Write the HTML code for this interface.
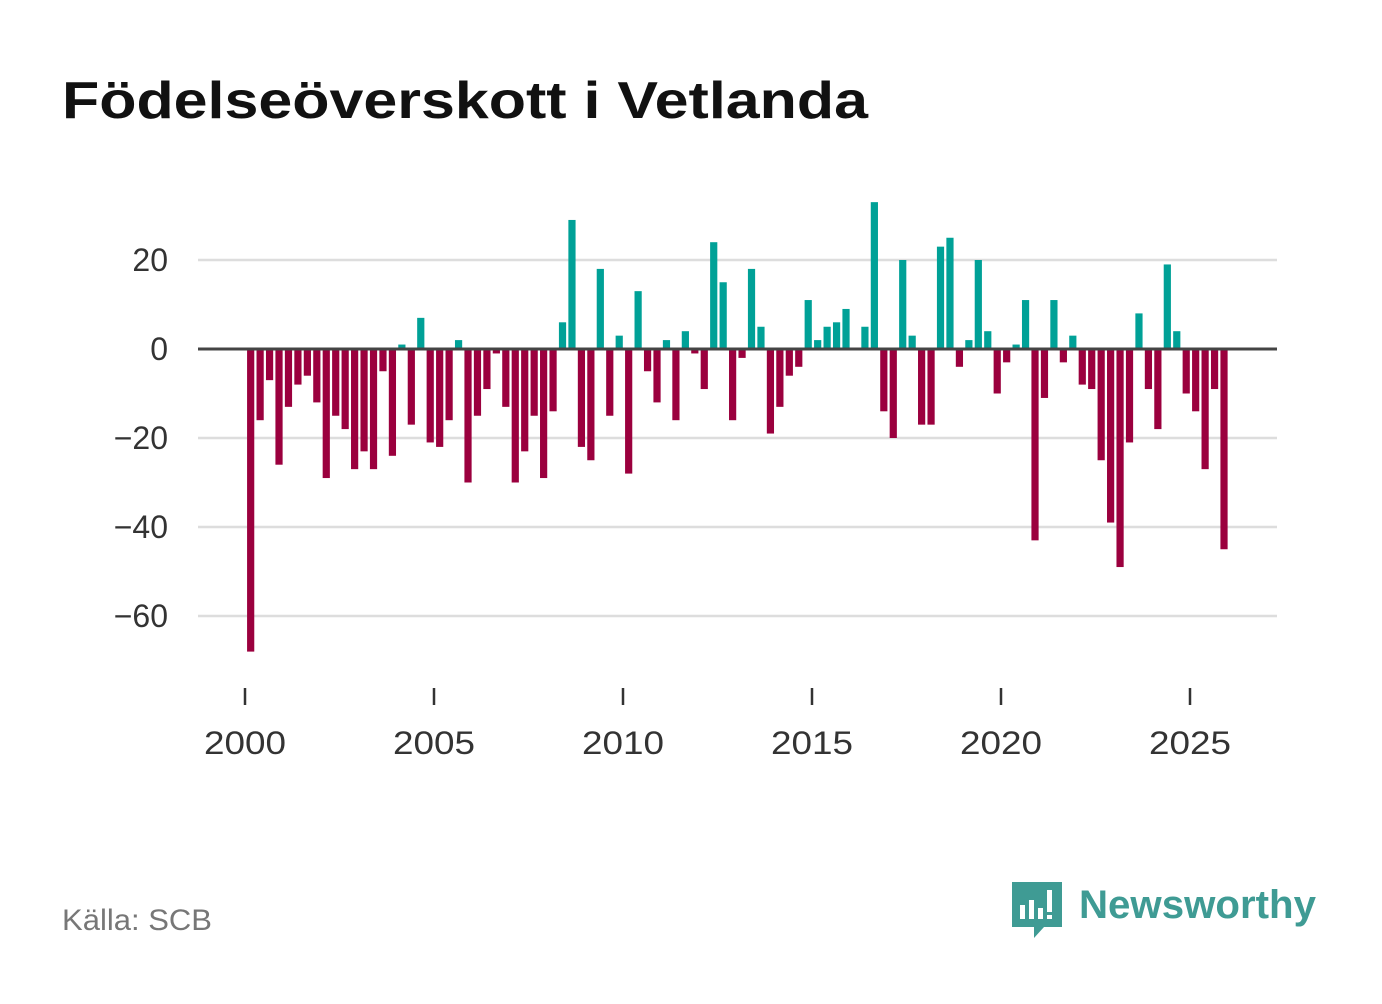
<!DOCTYPE html>
<html><head><meta charset="utf-8"><style>
body{margin:0;background:#fff;width:1382px;height:999px;overflow:hidden;font-family:"Liberation Sans",sans-serif}
</style></head><body>
<svg width="1382" height="999">
<text x="62" y="118" font-size="52" font-weight="bold" fill="#111" textLength="806" lengthAdjust="spacingAndGlyphs">Födelseöverskott i Vetlanda</text>
<g id="grid"></g><g id="bars"></g><g id="xaxis"></g>
<text x="62" y="930" font-size="30" fill="#777" textLength="150" lengthAdjust="spacingAndGlyphs">Källa: SCB</text>
<g>
<path d="M1012 882h50v45h-18l-10 11v-11h-22z" fill="#3f9b94"/>
<rect x="1020" y="905" width="5" height="14" fill="#fff"/><rect x="1029" y="900" width="5" height="19" fill="#fff"/><rect x="1038" y="908" width="5" height="11" fill="#fff"/><rect x="1047" y="890" width="5" height="22" fill="#fff"/><rect x="1047" y="915" width="5" height="4" fill="#fff"/>
<text x="1079" y="918" font-size="40" font-weight="bold" fill="#3f9b94" textLength="237" lengthAdjust="spacingAndGlyphs">Newsworthy</text>
</g>
</svg>
<script>
const years=[2000,2005,2010,2015,2020,2025];
const yTicks=[20,0,-20,-40,-60];
const values=[-68,-16,-7,-26,-13,-8,-6,-12,-29,-15,-18,-27,-23,-27,-5,-24,1,-17,7,-21,-22,-16,2,-30,-15,-9,-1,-13,-30,-23,-15,-29,-14,6,29,-22,-25,18,-15,3,-28,13,-5,-12,2,-16,4,-1,-9,24,15,-16,-2,18,5,-19,-13,-6,-4,11,2,5,6,9,0,5,33,-14,-20,20,3,-17,-17,23,25,-4,2,20,4,-10,-3,1,11,-43,-11,11,-3,3,-8,-9,-25,-39,-49,-21,8,-9,-18,19,4,-10,-14,-27,-9,-45];
const NS="http://www.w3.org/2000/svg";
const xs=t=>245+(t-2000)*37.8;
const ys=v=>349-v*4.45;
function mk(tag,attrs,parent){const e=document.createElementNS(NS,tag);for(const k in attrs)e.setAttribute(k,attrs[k]);parent.appendChild(e);return e;}
const grid=document.getElementById('grid'),bars=document.getElementById('bars'),xa=document.getElementById('xaxis');
yTicks.forEach(v=>{if(v!==0){const l=mk('line',{x1:198,x2:1277,y1:ys(v),y2:ys(v),stroke:'#ddd','stroke-width':2.5},grid);

}
const t=mk('text',{x:168,y:ys(v)+11,'font-size':32,fill:'#333','text-anchor':'end'},grid);t.textContent=String(v).replace('-','−');

});
values.forEach((v,i)=>{const x=xs(2000+i/4+0.15);const y0=ys(0),y1=ys(v);
const r=mk('rect',{x:x-3.6,y:Math.min(y0,y1),width:7.2,height:Math.max(Math.abs(y1-y0),0.01),fill:v>=0?'#00a197':'#9b003e'},bars);

});
const z=mk('line',{x1:198,x2:1277,y1:ys(0),y2:ys(0),stroke:'#444','stroke-width':3},bars);


years.forEach(y=>{const x=xs(y);mk('line',{x1:x,x2:x,y1:688,y2:705,stroke:'#333','stroke-width':2.5},xa);
const t=mk('text',{x:x,y:754,'font-size':32,fill:'#333','text-anchor':'middle',textLength:82,lengthAdjust:'spacingAndGlyphs'},xa);t.textContent=y;

});
</script>
</body></html>
